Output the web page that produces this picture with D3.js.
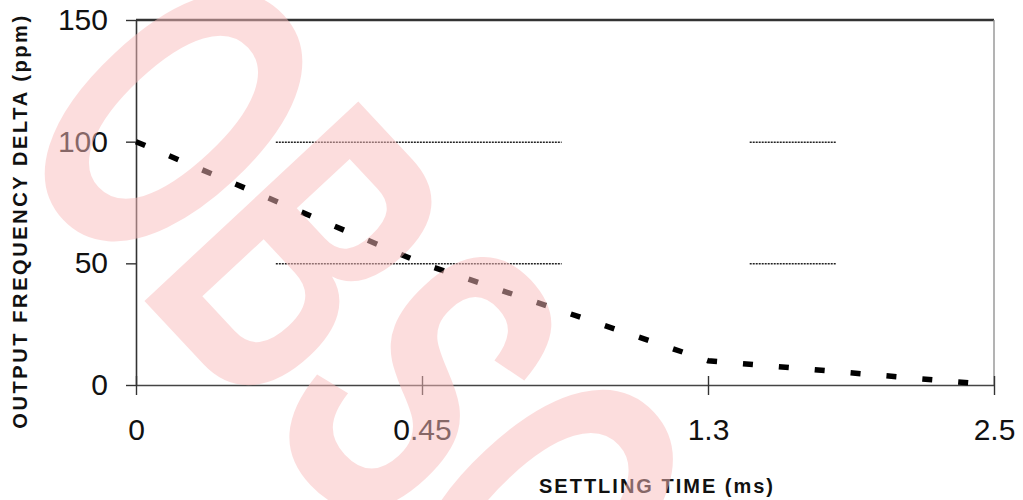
<!DOCTYPE html>
<html>
<head>
<meta charset="utf-8">
<script src="https://cdn.jsdelivr.net/npm/d3@7"></script>
<style>
  body { margin: 0; background: #fff; }
  svg { display: block; font-family: "Liberation Sans", Arial, sans-serif; }
</style>
</head>
<body>
<svg id="chart" width="1023" height="500"></svg>
<script>
// settling curve
const settleTime = [0, 0.45, 1.3, 2.5];          // ms
const freqDelta = [100, 50, 10, 0];               // ppm

const xTicks = [0, 0.45, 1.3, 2.5];
const yTicks = [0, 50, 100, 150];

// the short dotted reference lines
const gridLevels = [50, 100];
const gridSpans = [[0.22, 0.865], [1.475, 1.84]];

const plotLeft = 136, plotRight = 994, plotTop = 20, plotBottom = 385;

const svg = d3.select("#chart");

// x axis is stretched so the labelled times are evenly spaced
const x = d3.scaleLinear()
    .domain(xTicks)
    .range(xTicks.map((d, i) => plotLeft + i * (plotRight - plotLeft) / (xTicks.length - 1)));
const y = d3.scaleLinear().domain([0, 150]).range([plotBottom, plotTop]);

// dotted reference segments
gridLevels.forEach(level => {
    svg.selectAll(null)
        .data(gridSpans)
        .enter()
        .append("line")
        .attr("x1", d => x(d[0]))
        .attr("x2", d => x(d[1]))
        .attr("y1", y(level) + 0.5)
        .attr("y2", y(level) + 0.5)
        .attr("stroke", "#222")
        .attr("stroke-width", 1.5)
        .attr("stroke-dasharray", "2,1");
});

// frame: top and right
svg.append("line")
    .attr("x1", plotLeft).attr("x2", plotRight)
    .attr("y1", plotTop).attr("y2", plotTop)
    .attr("stroke", "#333").attr("stroke-width", 2.4);
svg.append("line")
    .attr("x1", plotRight).attr("x2", plotRight)
    .attr("y1", plotTop).attr("y2", plotBottom)
    .attr("stroke", "#8a8a8a").attr("stroke-width", 1.3);

// y axis
const yAxis = svg.append("g")
    .attr("transform", `translate(${plotLeft},0)`)
    .call(d3.axisLeft(y).tickValues(yTicks).tickSizeInner(10).tickSizeOuter(0).tickPadding(18));
yAxis.select(".domain").attr("stroke", "#333").attr("stroke-width", 1.6);
yAxis.selectAll(".tick line").attr("stroke", "#333").attr("stroke-width", 1.4);
yAxis.selectAll("text")
    .attr("font-size", 30)
    .attr("font-family", "Liberation Sans, Arial, sans-serif")
    .attr("fill", "#111");

// x axis
const xAxis = svg.append("g")
    .attr("transform", `translate(0,${plotBottom})`)
    .call(d3.axisBottom(x).tickValues(xTicks).tickFormat(d => String(d))
        .tickSizeInner(10).tickSizeOuter(0).tickPadding(24));
xAxis.select(".domain").attr("stroke", "#444").attr("stroke-width", 1.6);
xAxis.selectAll(".tick line").attr("y1", -9).attr("stroke", "#333").attr("stroke-width", 1.4);
xAxis.selectAll("text")
    .attr("font-size", 30)
    .attr("font-family", "Liberation Sans, Arial, sans-serif")
    .attr("fill", "#111");

// data line
const line = d3.line()
    .x((d, i) => x(settleTime[i]))
    .y(d => y(d));

svg.append("path")
    .datum(freqDelta)
    .attr("d", line)
    .attr("fill", "none")
    .attr("stroke", "#000")
    .attr("stroke-width", 5.5)
    .attr("stroke-dasharray", "10,26");

// axis titles
svg.append("text")
    .attr("x", 657)
    .attr("y", 493)
    .attr("text-anchor", "middle")
    .attr("font-size", 20)
    .attr("font-weight", "bold")
    .attr("letter-spacing", 2)
    .attr("fill", "#111")
    .text("SETTLING TIME (ms)");

svg.append("text")
    .attr("transform", "translate(27,221) rotate(-90)")
    .attr("text-anchor", "middle")
    .attr("font-size", 20)
    .attr("font-weight", "bold")
    .attr("letter-spacing", 2.6)
    .attr("fill", "#111")
    .text("OUTPUT FREQUENCY DELTA (ppm)");

// watermark
svg.append("text")
    .attr("transform", "translate(0,146) rotate(47) scale(0.59,1)")
    .attr("font-size", 425)
    .attr("font-weight", "bold")
    .attr("fill", "#fbbcbc")
    .attr("opacity", 0.5)
    .text("OBSOLETE");
</script>
</body>
</html>
